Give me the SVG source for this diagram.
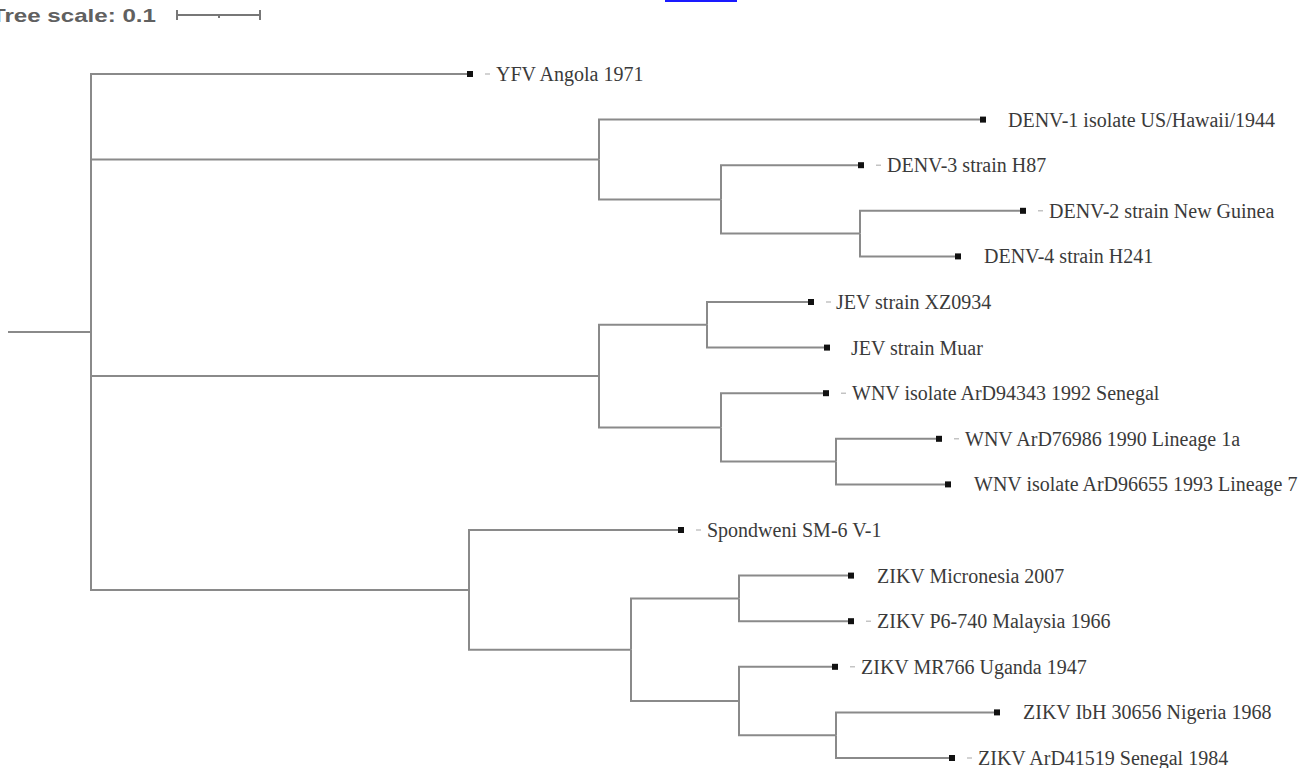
<svg xmlns="http://www.w3.org/2000/svg" width="1314" height="768" viewBox="0 0 1314 768">
<style>
.br{fill:none;stroke:#8a8a8a;stroke-width:2}
.sq{fill:#111}
.dash{stroke:#b5b5b5;stroke-width:1.2}
.lbl{font-family:"Liberation Serif","Times New Roman",serif;font-size:20px;fill:#3a3a3a}
.scale{font-family:"Liberation Sans",Arial,sans-serif;font-weight:bold;font-size:19px;fill:#606060}
.sbar{fill:none;stroke:#777;stroke-width:2}
</style>
<rect width="1314" height="768" fill="#ffffff"/>
<line x1="665" y1="1" x2="737" y2="1" stroke="#1a1aff" stroke-width="2"/>
<g id="tree-scale">
<text class="scale" x="-9" y="22" textLength="165" lengthAdjust="spacingAndGlyphs">Tree scale: 0.1</text>
<path class="sbar" d="M177,15 H260 M177,10 V20 M260,10 V20 M219,15 V18"/>
</g>
<g id="connectors">
<path class="br" d="M8,332 H91"/>
<path class="br" d="M91,332 V74 H470"/>
<path class="br" d="M91,332 V159.5 H599"/>
<path class="br" d="M91,332 V376.1 H599"/>
<path class="br" d="M91,332 V589.9 H469"/>
<path class="br" d="M599,159.5 V119.6 H983"/>
<path class="br" d="M599,159.5 V199.4 H721"/>
<path class="br" d="M721,199.4 V165.2 H861"/>
<path class="br" d="M721,199.4 V233.6 H860"/>
<path class="br" d="M860,233.6 V210.8 H1023"/>
<path class="br" d="M860,233.6 V256.4 H958"/>
<path class="br" d="M599,376.1 V324.8 H707"/>
<path class="br" d="M599,376.1 V427.4 H721"/>
<path class="br" d="M707,324.8 V302 H811"/>
<path class="br" d="M707,324.8 V347.6 H827"/>
<path class="br" d="M721,427.4 V393.2 H826"/>
<path class="br" d="M721,427.4 V461.6 H836"/>
<path class="br" d="M836,461.6 V438.8 H939"/>
<path class="br" d="M836,461.6 V484.4 H948"/>
<path class="br" d="M469,589.9 V530 H681"/>
<path class="br" d="M469,589.9 V649.7 H631"/>
<path class="br" d="M631,649.7 V598.4 H739"/>
<path class="br" d="M631,649.7 V701 H739"/>
<path class="br" d="M739,598.4 V575.6 H851"/>
<path class="br" d="M739,598.4 V621.2 H851"/>
<path class="br" d="M739,701 V666.8 H835"/>
<path class="br" d="M739,701 V735.2 H836"/>
<path class="br" d="M836,735.2 V712.4 H997"/>
<path class="br" d="M836,735.2 V758 H952"/>
</g>
<g id="leaf-yfv"><rect class="sq" x="467" y="71" width="6" height="6"/><line class="dash" x1="485" y1="74" x2="490" y2="74"/><text class="lbl" x="496" y="81">YFV Angola 1971</text></g>
<g id="leaf-denv1"><rect class="sq" x="980" y="116.6" width="6" height="6"/><text class="lbl" x="1008" y="126.6">DENV-1 isolate US/Hawaii/1944</text></g>
<g id="leaf-denv3"><rect class="sq" x="858" y="162.2" width="6" height="6"/><line class="dash" x1="876" y1="165.2" x2="881" y2="165.2"/><text class="lbl" x="887" y="172.2">DENV-3 strain H87</text></g>
<g id="leaf-denv2"><rect class="sq" x="1020" y="207.8" width="6" height="6"/><line class="dash" x1="1038" y1="210.8" x2="1043" y2="210.8"/><text class="lbl" x="1049" y="217.8">DENV-2 strain New Guinea</text></g>
<g id="leaf-denv4"><rect class="sq" x="955" y="253.4" width="6" height="6"/><text class="lbl" x="984" y="263.4">DENV-4 strain H241</text></g>
<g id="leaf-jev-xz0934"><rect class="sq" x="808" y="299" width="6" height="6"/><line class="dash" x1="826" y1="302" x2="831" y2="302"/><text class="lbl" x="836" y="309">JEV strain XZ0934</text></g>
<g id="leaf-jev-muar"><rect class="sq" x="824" y="344.6" width="6" height="6"/><text class="lbl" x="851" y="354.6">JEV strain Muar</text></g>
<g id="leaf-wnv-ard94343"><rect class="sq" x="823" y="390.2" width="6" height="6"/><line class="dash" x1="841" y1="393.2" x2="846" y2="393.2"/><text class="lbl" x="852" y="400.2">WNV isolate ArD94343 1992 Senegal</text></g>
<g id="leaf-wnv-ard76986"><rect class="sq" x="936" y="435.8" width="6" height="6"/><line class="dash" x1="954" y1="438.8" x2="959" y2="438.8"/><text class="lbl" x="965" y="445.8">WNV ArD76986 1990 Lineage 1a</text></g>
<g id="leaf-wnv-ard96655"><rect class="sq" x="945" y="481.4" width="6" height="6"/><text class="lbl" x="974" y="491.4">WNV isolate ArD96655 1993 Lineage 7</text></g>
<g id="leaf-spondweni"><rect class="sq" x="678" y="527" width="6" height="6"/><line class="dash" x1="696" y1="530" x2="701" y2="530"/><text class="lbl" x="707" y="537">Spondweni SM-6 V-1</text></g>
<g id="leaf-zikv-micronesia"><rect class="sq" x="848" y="572.6" width="6" height="6"/><text class="lbl" x="877" y="582.6">ZIKV Micronesia 2007</text></g>
<g id="leaf-zikv-p6740"><rect class="sq" x="848" y="618.2" width="6" height="6"/><line class="dash" x1="866" y1="621.2" x2="871" y2="621.2"/><text class="lbl" x="877" y="628.2">ZIKV P6-740 Malaysia 1966</text></g>
<g id="leaf-zikv-mr766"><rect class="sq" x="832" y="663.8" width="6" height="6"/><line class="dash" x1="850" y1="666.8" x2="855" y2="666.8"/><text class="lbl" x="861" y="673.8">ZIKV MR766 Uganda 1947</text></g>
<g id="leaf-zikv-ibh30656"><rect class="sq" x="994" y="709.4" width="6" height="6"/><text class="lbl" x="1023" y="719.4">ZIKV IbH 30656 Nigeria 1968</text></g>
<g id="leaf-zikv-ard41519"><rect class="sq" x="949" y="755" width="6" height="6"/><line class="dash" x1="967" y1="758" x2="972" y2="758"/><text class="lbl" x="978" y="765">ZIKV ArD41519 Senegal 1984</text></g>
</svg>
